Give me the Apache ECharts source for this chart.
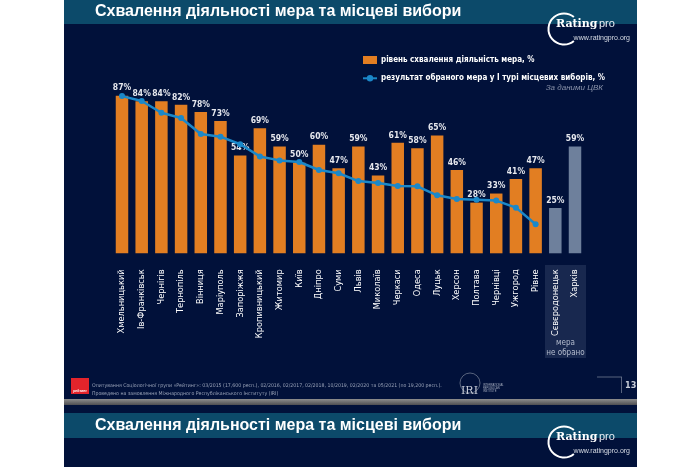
<!DOCTYPE html>
<html>
<head>
<meta charset="utf-8">
<script src="https://cdn.jsdelivr.net/npm/echarts@6/dist/echarts.min.js"></script>
<style>
html,body{margin:0;padding:0;background:#fff;}
#c{width:700px;height:467px;}
</style>
</head>
<body>
<div id="c"></div>
<script>
const categories = ['Хмельницький','Ів-Франківськ','Чернігів','Тернопіль','Вінниця','Маріуполь','Запоріжжя','Кропивницький','Житомир','Київ','Дніпро','Суми','Львів','Миколаїв','Черкаси','Одеса','Луцьк','Херсон','Полтава','Чернівці','Ужгород','Рівне','Сєвєродонецьк','Харків'];
const approval = [87,84,84,82,78,73,54,69,59,50,60,47,59,43,61,58,65,46,28,33,41,47,25,59];
const electionResult = [86.8,84.1,77.6,74.7,65.9,64.4,60.2,53.5,51.3,50.4,46.0,44.2,39.9,38.8,37.2,37.0,32.0,30.0,29.6,29.1,25.2,16.0,null,null];
const notElected = ['Сєвєродонецьк','Харків'];
const seriesNames = ['рівень схвалення діяльність мера, %','результат обраного мера у І турі місцевих виборів, %'];
const titleText = 'Схвалення діяльності мера та місцеві вибори';
const sourceNote = 'За даними ЦВК';
const notElectedNote = ['мера','не обрано'];
const footerLines = ['Опитування Соціологічної групи «Рейтинг»: 03/2015 (17,600 респ.), 02/2016, 02/2017, 02/2018, 10/2019, 02/2020 та 05/2021 (по 19,200 респ.).','Проведено на замовлення Міжнародного Республіканського Інституту (IRI)'];
const pageNumber = '13';

const NAVY = '#01113a', TEAL = '#0c4a6a', ORANGE = '#e27e22', GRAY = '#6e809c', BLUE = '#1b88c9';
const NARROW = "'Liberation Sans Narrow','DejaVu Sans Condensed','Arial Narrow',sans-serif";
const SANS = "'Liberation Sans',Arial,sans-serif";

const chart = echarts.init(document.getElementById('c'), null, {renderer:'canvas'});

function logo(y0){
  return [
    {type:'arc', z:50, shape:{cx:564, cy:y0+29, r:15.5, startAngle:Math.PI*0.28, endAngle:Math.PI*1.72, clockwise:true}, style:{stroke:'#fff', lineWidth:2, fill:null}},
    {type:'text', z:50, x:556, y:y0+24, style:{text:'Rating', fill:'#fff', font:"bold 11px 'DejaVu Serif',serif", verticalAlign:'middle', align:'left'}},
    {type:'text', z:50, x:599, y:y0+24, style:{text:'pro', fill:'#e8edf3', font:"11px "+SANS, verticalAlign:'middle', align:'left'}},
    {type:'text', z:50, x:630, y:y0+38, style:{text:'www.ratingpro.org', fill:'#d8dde6', font:"7px "+SANS, verticalAlign:'middle', align:'right'}}
  ];
}

const graphics = [
  {type:'rect', z:-20, shape:{x:64, y:0, width:573, height:467}, style:{fill:NAVY}},
  {type:'rect', z:-19, shape:{x:64, y:0, width:573, height:24}, style:{fill:TEAL}},
  {type:'text', z:50, x:95, y:12, style:{text:titleText, fill:'#fff', font:"bold 16px "+SANS, verticalAlign:'middle'}},
  ...logo(0),
  {type:'text', z:50, x:603, y:88, style:{text:sourceNote, fill:'#8a93aa', font:"italic 8px "+SANS, align:'right', verticalAlign:'middle'}},
  {type:'rect', z:-5, shape:{x:545, y:265, width:41, height:93}, style:{fill:'#18284f'}},
  {type:'text', z:50, x:565.5, y:343, style:{text:notElectedNote[0], fill:'#b3bbcd', font:"8px "+NARROW, align:'center', verticalAlign:'middle'}},
  {type:'text', z:50, x:565.5, y:353, style:{text:notElectedNote[1], fill:'#b3bbcd', font:"8px "+NARROW, align:'center', verticalAlign:'middle'}},
  // footer
  {type:'rect', z:10, shape:{x:71, y:378, width:18, height:16}, style:{fill:'#e3242b'}},
  {type:'text', z:50, x:80, y:391, style:{text:'рейтинг', fill:'#fff', font:"bold 3.5px "+SANS, align:'center', verticalAlign:'middle'}},
  {type:'text', z:50, x:92, y:385.5, style:{text:footerLines[0], fill:'#9aa3b8', font:"5.2px "+NARROW, verticalAlign:'middle'}},
  {type:'text', z:50, x:92, y:393.5, style:{text:footerLines[1], fill:'#9aa3b8', font:"5.2px "+NARROW, verticalAlign:'middle'}},
  {type:'circle', z:10, shape:{cx:470, cy:383, r:10}, style:{stroke:'#7d869a', lineWidth:0.7, fill:null}},
  {type:'text', z:50, x:461, y:391, style:{text:'IRI', fill:'#c7ccd8', font:"11px 'DejaVu Serif',serif", verticalAlign:'middle'}},
  {type:'text', z:50, x:483, y:388, style:{text:'INTERNATIONAL\nREPUBLICAN\nINSTITUTE', fill:'#aab1c2', font:"2.6px "+SANS, verticalAlign:'middle', lineHeight:3}},
  {type:'line', z:10, shape:{x1:597, y1:377, x2:622, y2:377}, style:{stroke:'#6f7890', lineWidth:0.8}},
  {type:'line', z:10, shape:{x1:621.5, y1:377, x2:621.5, y2:393}, style:{stroke:'#6f7890', lineWidth:0.8}},
  {type:'text', z:50, x:625, y:385.5, style:{text:pageNumber, fill:'#c9ced9', font:"bold 9px "+NARROW, verticalAlign:'middle'}},
  {type:'rect', z:10, shape:{x:64, y:399, width:573, height:6}, style:{fill:new echarts.graphic.LinearGradient(0,0,0,1,[{offset:0,color:'#8d8d8d'},{offset:1,color:'#4e4e52'}])}},
  {type:'rect', z:-19, shape:{x:64, y:413, width:573, height:25}, style:{fill:TEAL}},
  {type:'text', z:50, x:95, y:425.5, style:{text:titleText, fill:'#fff', font:"bold 16px "+SANS, verticalAlign:'middle'}},
  ...logo(413)
];

chart.setOption({
  backgroundColor:'#ffffff',
  animation:false,
  graphic:{elements:graphics},
  grid:{left:112.15, right:115.15, top:72.2, bottom:213.7},
  legend:{
    orient:'vertical', left:362, top:55, padding:0, itemGap:8.3, itemStyle:{},
    itemWidth:14, itemHeight:8,
    data:[{name:seriesNames[0], icon:'rect'}, {name:seriesNames[1]}],
    textStyle:{color:'#fff', fontSize:8, fontWeight:'bold', fontFamily:NARROW, lineHeight:10, padding:[0,0,0,-1]}
  },
  xAxis:{
    type:'category', data:categories,
    axisLine:{show:false}, axisTick:{show:false},
    axisLabel:{rotate:90, interval:0, margin:16, color:'#fff', fontSize:9.2, fontFamily:NARROW}
  },
  yAxis:{type:'value', min:0, max:100, show:false, splitLine:{show:false}},
  series:[
    {
      name:seriesNames[0], type:'bar', barWidth:12.5,
      itemStyle:{color:ORANGE},
      data:approval.map((v,i)=>({value:v, itemStyle:{color: notElected.includes(categories[i]) ? GRAY : ORANGE}})),
      label:{show:true, position:'top', distance:3, formatter:'{c}%', color:'#e6e8ee', fontSize:8.5, fontWeight:'bold', fontFamily:NARROW}
    },
    {
      name:seriesNames[1], type:'line', data:electionResult, z:5,
      symbol:'circle', symbolSize:6, connectNulls:false,
      lineStyle:{color:BLUE, width:2.5}, itemStyle:{color:BLUE}
    }
  ]
});
</script>
</body>
</html>
